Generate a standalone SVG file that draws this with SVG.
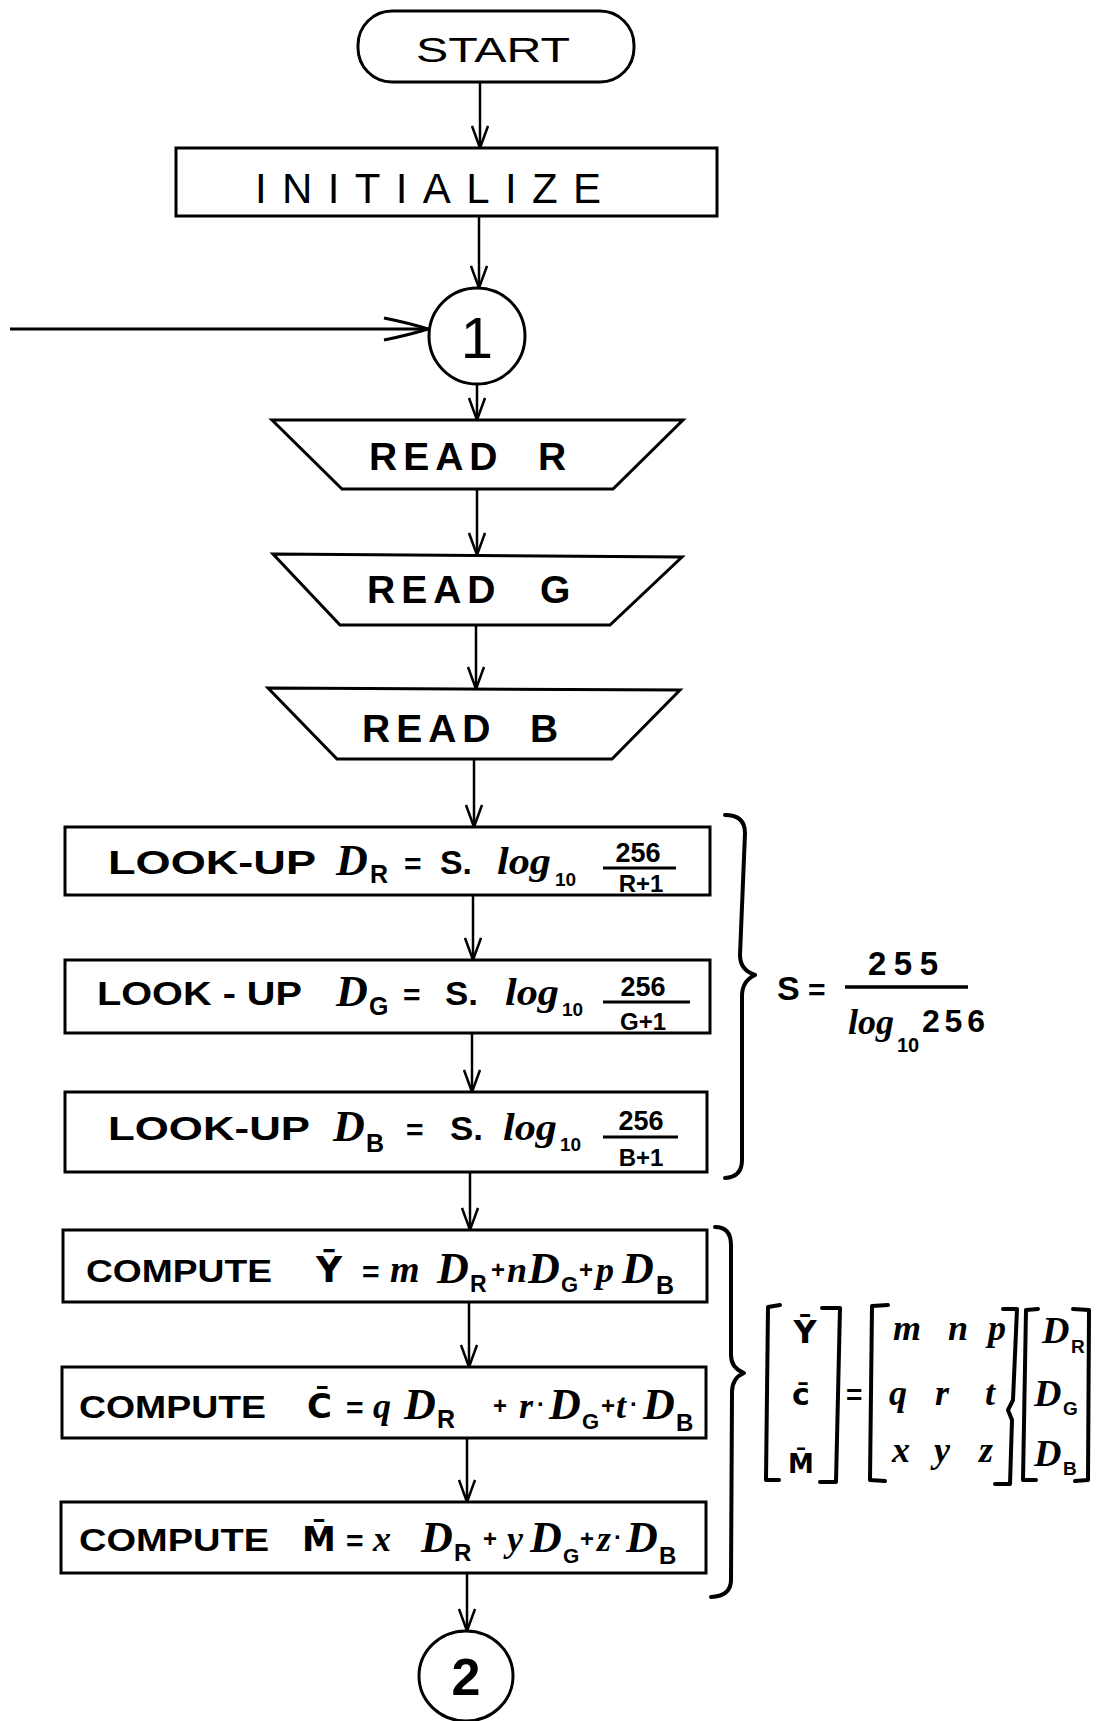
<svg xmlns="http://www.w3.org/2000/svg" width="1097" height="1721" viewBox="0 0 1097 1721">
<defs>
<marker id="ah" viewBox="0 0 24 18" refX="23" refY="9" markerWidth="24" markerHeight="18" orient="auto" markerUnits="userSpaceOnUse">
<path d="M1,1 L23,9 L1,17" fill="none" stroke="#000" stroke-width="2.5" stroke-linejoin="miter"/>
</marker>
<marker id="ahL" viewBox="0 0 46 26" refX="45" refY="13" markerWidth="46" markerHeight="26" orient="auto" markerUnits="userSpaceOnUse">
<path d="M1,2 Q26,7 45,13 Q26,19 1,24" fill="none" stroke="#000" stroke-width="3"/>
</marker>
</defs>
<style>
.bx{fill:#fff;stroke:#000;stroke-width:3}
.ln{fill:none;stroke:#000;stroke-width:2.5}
.br{fill:none;stroke:#000;stroke-width:4;stroke-linecap:round;stroke-linejoin:round}
text{font-family:"Liberation Sans",Arial,sans-serif;fill:#000}
.b{font-weight:bold}
.m{font-family:"Liberation Serif","Times New Roman",serif;font-style:italic;font-weight:bold}
.s{font-family:"Liberation Sans",Arial,sans-serif;font-weight:bold}
.ov{font-family:"DejaVu Sans",sans-serif;font-weight:bold}
</style>
<rect width="1097" height="1721" fill="#fff"/>

<g id="connectors">
<line class="ln" x1="480" y1="82" x2="480" y2="148" marker-end="url(#ah)"/>
<line class="ln" x1="479" y1="216" x2="479" y2="288" marker-end="url(#ah)"/>
<line x1="10" y1="329" x2="428" y2="329" stroke="#000" stroke-width="3" marker-end="url(#ahL)"/>
<line class="ln" x1="477" y1="384" x2="477" y2="420" marker-end="url(#ah)"/>
<line class="ln" x1="477" y1="489" x2="477" y2="555" marker-end="url(#ah)"/>
<line class="ln" x1="476" y1="625" x2="476" y2="689" marker-end="url(#ah)"/>
<line class="ln" x1="474" y1="759" x2="474" y2="827" marker-end="url(#ah)"/>
<line class="ln" x1="473" y1="895" x2="473" y2="960" marker-end="url(#ah)"/>
<line class="ln" x1="472" y1="1033" x2="472" y2="1092" marker-end="url(#ah)"/>
<line class="ln" x1="470" y1="1172" x2="470" y2="1230" marker-end="url(#ah)"/>
<line class="ln" x1="469" y1="1302" x2="469" y2="1367" marker-end="url(#ah)"/>
<line class="ln" x1="467" y1="1438" x2="467" y2="1502" marker-end="url(#ah)"/>
<line class="ln" x1="467" y1="1573" x2="467" y2="1631" marker-end="url(#ah)"/>
</g>

<g id="start">
<rect class="bx" x="358" y="11" width="276" height="71" rx="34" ry="34"/>
<text x="416" y="62" font-size="35" textLength="154" lengthAdjust="spacingAndGlyphs">START</text>
</g>

<g id="initialize">
<rect class="bx" x="176" y="148" width="541" height="68"/>
<text x="255" y="203" font-size="42" textLength="346" lengthAdjust="spacing">INITIALIZE</text>
</g>

<g id="connector1">
<ellipse class="bx" cx="477" cy="336" rx="48" ry="48"/>
<text x="477" y="358" font-size="58" text-anchor="middle">1</text>
</g>

<g id="readR">
<polygon class="bx" points="272,420 683,420 613,489 342,489"/>
<text class="b" x="369" y="470" font-size="39" letter-spacing="6">READ <tspan x="538">R</tspan></text>
</g>

<g id="readG">
<polygon class="bx" points="273,554 682,557 610,625 340,625"/>
<text class="b" x="367" y="603" font-size="39" letter-spacing="6">READ <tspan x="540">G</tspan></text>
</g>

<g id="readB">
<polygon class="bx" points="268,688 680,690 612,759 337,759"/>
<text class="b" x="362" y="742" font-size="39" letter-spacing="6">READ <tspan x="530">B</tspan></text>
</g>

<g id="lookupR">
<rect class="bx" x="65" y="827" width="645" height="68"/>
<text class="s" x="108" y="874" font-size="34" textLength="208" lengthAdjust="spacingAndGlyphs">LOOK-UP</text>
<text class="m" x="336" y="875" font-size="44">D</text>
<text class="s" x="370" y="883" font-size="25">R</text>
<text class="s" x="404" y="874" font-size="30">=</text>
<text class="s" x="440" y="874" font-size="34" textLength="32" lengthAdjust="spacingAndGlyphs">S.</text>
<text class="m" x="497" y="874" font-size="38" textLength="54" lengthAdjust="spacingAndGlyphs">log</text>
<text class="s" x="555" y="886" font-size="19">10</text>
<text class="s" x="638" y="862" font-size="27" text-anchor="middle">256</text>
<line x1="603" y1="868" x2="676" y2="868" stroke="#000" stroke-width="3"/>
<text class="s" x="641" y="892" font-size="24" text-anchor="middle">R+1</text>
</g>

<g id="lookupG">
<rect class="bx" x="65" y="960" width="645" height="73"/>
<text class="s" x="97" y="1005" font-size="34" textLength="205" lengthAdjust="spacingAndGlyphs">LOOK - UP</text>
<text class="m" x="336" y="1006" font-size="44">D</text>
<text class="s" x="369" y="1015" font-size="25">G</text>
<text class="s" x="403" y="1005" font-size="30">=</text>
<text class="s" x="445" y="1005" font-size="34" textLength="33" lengthAdjust="spacingAndGlyphs">S.</text>
<text class="m" x="505" y="1005" font-size="38" textLength="54" lengthAdjust="spacingAndGlyphs">log</text>
<text class="s" x="562" y="1016" font-size="19">10</text>
<text class="s" x="643" y="996" font-size="27" text-anchor="middle">256</text>
<line x1="603" y1="1002" x2="690" y2="1002" stroke="#000" stroke-width="3"/>
<text class="s" x="643" y="1030" font-size="24" text-anchor="middle">G+1</text>
</g>

<g id="lookupB">
<rect class="bx" x="65" y="1092" width="642" height="80"/>
<text class="s" x="108" y="1140" font-size="34" textLength="202" lengthAdjust="spacingAndGlyphs">LOOK-UP</text>
<text class="m" x="333" y="1141" font-size="44">D</text>
<text class="s" x="366" y="1152" font-size="25">B</text>
<text class="s" x="406" y="1140" font-size="30">=</text>
<text class="s" x="450" y="1140" font-size="34" textLength="33" lengthAdjust="spacingAndGlyphs">S.</text>
<text class="m" x="503" y="1140" font-size="38" textLength="54" lengthAdjust="spacingAndGlyphs">log</text>
<text class="s" x="560" y="1151" font-size="19">10</text>
<text class="s" x="641" y="1130" font-size="27" text-anchor="middle">256</text>
<line x1="603" y1="1137" x2="678" y2="1137" stroke="#000" stroke-width="3"/>
<text class="s" x="641" y="1166" font-size="24" text-anchor="middle">B+1</text>
</g>

<g id="computeY">
<rect class="bx" x="63" y="1230" width="644" height="72"/>
<text class="s" x="86" y="1282" font-size="32" textLength="186" lengthAdjust="spacingAndGlyphs">COMPUTE</text>
<text class="ov" x="316" y="1282" font-size="36">Ȳ</text>
<text class="s" x="362" y="1282" font-size="30">=</text>
<text class="m" x="390" y="1282" font-size="38">m</text>
<text class="m" x="437" y="1283" font-size="44">D</text>
<text class="s" x="470" y="1292" font-size="23">R</text>
<text class="s" x="491" y="1278" font-size="24">+</text>
<text class="m" x="507" y="1282" font-size="36">n</text>
<text class="m" x="528" y="1283" font-size="44">D</text>
<text class="s" x="561" y="1292" font-size="22">G</text>
<text class="s" x="579" y="1278" font-size="24">+</text>
<text class="m" x="596" y="1282" font-size="36">p</text>
<text class="m" x="622" y="1283" font-size="44">D</text>
<text class="s" x="656" y="1294" font-size="25">B</text>
</g>

<g id="computeC">
<rect class="bx" x="62" y="1367" width="644" height="71"/>
<text class="s" x="79" y="1418" font-size="32" textLength="187" lengthAdjust="spacingAndGlyphs">COMPUTE</text>
<text class="ov" x="307" y="1418" font-size="34">C̄</text>
<text class="s" x="346" y="1418" font-size="30">=</text>
<text class="m" x="373" y="1418" font-size="36">q</text>
<text class="m" x="404" y="1419" font-size="44">D</text>
<text class="s" x="437" y="1428" font-size="25">R</text>
<text class="s" x="493" y="1414" font-size="24">+</text>
<text class="m" x="519" y="1418" font-size="36">r</text>
<text class="s" x="537" y="1412" font-size="24">·</text>
<text class="m" x="549" y="1419" font-size="44">D</text>
<text class="s" x="582" y="1429" font-size="22">G</text>
<text class="s" x="601" y="1414" font-size="24">+</text>
<text class="m" x="616" y="1418" font-size="36">t</text>
<text class="s" x="630" y="1412" font-size="24">·</text>
<text class="m" x="643" y="1419" font-size="44">D</text>
<text class="s" x="676" y="1431" font-size="24">B</text>
</g>

<g id="computeM">
<rect class="bx" x="61" y="1502" width="645" height="71"/>
<text class="s" x="79" y="1551" font-size="32" textLength="190" lengthAdjust="spacingAndGlyphs">COMPUTE</text>
<text class="ov" x="302" y="1551" font-size="34">M̄</text>
<text class="s" x="346" y="1551" font-size="30">=</text>
<text class="m" x="373" y="1551" font-size="36">x</text>
<text class="m" x="421" y="1552" font-size="44">D</text>
<text class="s" x="454" y="1561" font-size="24">R</text>
<text class="s" x="483" y="1547" font-size="24">+</text>
<text class="m" x="507" y="1551" font-size="36">y</text>
<text class="m" x="530" y="1552" font-size="44">D</text>
<text class="s" x="563" y="1563" font-size="21">G</text>
<text class="s" x="580" y="1547" font-size="24">+</text>
<text class="m" x="597" y="1551" font-size="36">z</text>
<text class="s" x="614" y="1545" font-size="24">·</text>
<text class="m" x="626" y="1552" font-size="44">D</text>
<text class="s" x="659" y="1564" font-size="24">B</text>
</g>

<g id="connector2">
<ellipse class="bx" cx="466" cy="1676" rx="47" ry="45"/>
<text class="s" x="466" y="1695" font-size="52" text-anchor="middle">2</text>
</g>

<g id="scale-note">
<path class="br" d="M725,815 Q745,815 745,833 L740,955 Q740,970 755,975 Q742,981 742,996 L742,1160 Q742,1177 725,1178"/>
<text class="s" x="777" y="1000" font-size="34">S</text>
<text class="s" x="808" y="1000" font-size="30">=</text>
<text class="s" x="868" y="975" font-size="33" textLength="70" lengthAdjust="spacing">255</text>
<line x1="845" y1="987" x2="968" y2="987" stroke="#000" stroke-width="3.5"/>
<text class="m" x="848" y="1034" font-size="36" textLength="46" lengthAdjust="spacingAndGlyphs">log</text>
<text class="s" x="897" y="1052" font-size="20">10</text>
<text class="s" x="922" y="1032" font-size="32" textLength="63" lengthAdjust="spacing">256</text>
</g>

<g id="matrix-note">
<path class="br" d="M715,1227 Q731,1227 731,1245 L731,1355 Q731,1368 744,1373 Q732,1378 732,1392 L731,1580 Q731,1596 711,1597"/>
<path class="br" d="M780,1305 L768,1307 L766,1480 L779,1480"/>
<path class="br" d="M822,1308 L840,1308 L836,1482 L820,1482"/>
<text class="ov" x="805" y="1343" font-size="32" text-anchor="middle">Ȳ</text>
<text class="ov" x="801" y="1405" font-size="30" text-anchor="middle">c̄</text>
<text class="ov" x="801" y="1473" font-size="26" text-anchor="middle">M̄</text>
<text class="s" x="846" y="1404" font-size="28">=</text>
<path class="br" d="M888,1305 L872,1306 L870,1480 L885,1481"/>
<text class="m" x="907" y="1340" font-size="36" text-anchor="middle">m</text>
<text class="m" x="958" y="1340" font-size="36" text-anchor="middle">n</text>
<text class="m" x="997" y="1340" font-size="36" text-anchor="middle">p</text>
<text class="m" x="898" y="1405" font-size="36" text-anchor="middle">q</text>
<text class="m" x="942" y="1405" font-size="36" text-anchor="middle">r</text>
<text class="m" x="990" y="1405" font-size="36" text-anchor="middle">t</text>
<text class="m" x="901" y="1462" font-size="36" text-anchor="middle">x</text>
<text class="m" x="942" y="1462" font-size="36" text-anchor="middle">y</text>
<text class="m" x="986" y="1462" font-size="36" text-anchor="middle">z</text>
<path class="br" d="M1003,1309 L1017,1309 L1013,1400 L1008,1410 L1012,1420 L1010,1484 L995,1484"/>
<path class="br" d="M1038,1309 L1026,1310 L1023,1480 L1036,1480"/>
<text class="m" x="1042" y="1343" font-size="38">D</text>
<text class="s" x="1071" y="1353" font-size="19">R</text>
<text class="m" x="1034" y="1406" font-size="38">D</text>
<text class="s" x="1063" y="1415" font-size="19">G</text>
<text class="m" x="1034" y="1466" font-size="38">D</text>
<text class="s" x="1063" y="1475" font-size="19">B</text>
<path class="br" d="M1073,1309 L1089,1310 L1088,1480 L1075,1481"/>
</g>
</svg>
